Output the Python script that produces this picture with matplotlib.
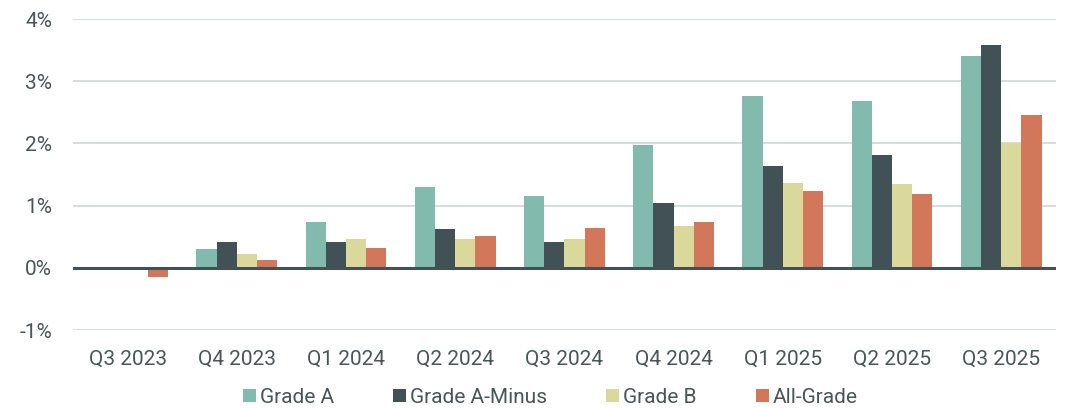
import numpy as np
import matplotlib.pyplot as plt
from matplotlib.ticker import FuncFormatter

quarters = ["Q3 2023", "Q4 2023", "Q1 2024", "Q2 2024", "Q3 2024",
            "Q4 2024", "Q1 2025", "Q2 2025", "Q3 2025"]
grade_a = [0.00, 0.30, 0.73, 1.30, 1.15, 1.97, 2.76, 2.68, 3.40]
grade_a_minus = [0.00, 0.42, 0.42, 0.62, 0.41, 1.04, 1.64, 1.82, 3.58]
grade_b = [0.00, 0.23, 0.46, 0.46, 0.46, 0.68, 1.36, 1.34, 2.00]
all_grade = [-0.14, 0.13, 0.32, 0.51, 0.645, 0.74, 1.24, 1.18, 2.46]

series = [
    ("Grade A", grade_a, "#82bbad"),
    ("Grade A-Minus", grade_a_minus, "#425155"),
    ("Grade B", grade_b, "#dbd89c"),
    ("All-Grade", all_grade, "#d3775a"),
]

text_color = "#4a5557"
plt.rcParams['font.family'] = ['Roboto', 'DejaVu Sans']

fig = plt.figure(figsize=(10.66, 4.08), dpi=100)
ax = fig.add_axes([0.0685, 0.191, 0.922, 0.7624])

x = np.arange(len(quarters))
width = 0.185
for i, (name, vals, color) in enumerate(series):
    offset = (i - 1.5) * width
    ax.bar(x + offset, vals, width, color=color, label=name, zorder=3)

ax.set_xlim(-0.5, len(quarters) - 0.5)
ax.set_ylim(-1, 4)
ax.set_yticks([-1, 0, 1, 2, 3, 4])
ax.yaxis.set_major_formatter(FuncFormatter(lambda v, p: f"{v:.0f}%"))
ax.set_xticks(x)
ax.set_xticklabels(quarters)

ax.grid(axis='y', color='#d3dada', linewidth=1.3, zorder=0)
ax.axhline(0, color='#425155', linewidth=2.2, zorder=4)
for s in ax.spines.values():
    s.set_visible(False)
ax.tick_params(axis='both', length=0, labelsize=15, colors=text_color)
ax.tick_params(axis='y', pad=15)
ax.tick_params(axis='x', pad=14)

leg = fig.legend(loc='lower center', bbox_to_anchor=(0.5164, -0.043), ncol=4,
                 frameon=False, fontsize=15, handlelength=0.6, handleheight=0.6,
                 handletextpad=0.2, columnspacing=2.85, labelcolor=text_color)

fig.savefig("out.png", dpi=100)
